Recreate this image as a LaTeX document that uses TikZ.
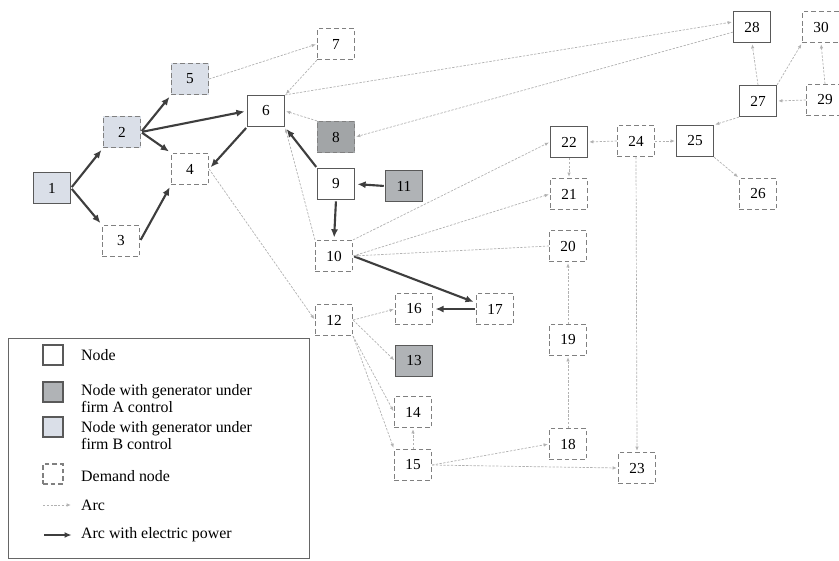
\documentclass[tikz,border=0pt]{standalone}
\usepackage{fontspec}
\setmainfont{Liberation Serif}
\usetikzlibrary{arrows.meta}
\definecolor{arcgray}{RGB}{178,178,178}
\definecolor{powergray}{RGB}{62,62,62}
\definecolor{firma}{RGB}{176,179,182}
\definecolor{firmb}{RGB}{218,223,232}
\tikzset{
	bus/.style={draw=black!65, line width=0.9pt, fill=white, minimum width=31.5pt, minimum height=26.5pt, inner sep=0pt, font=\fontsize{13}{13}\selectfont},
	demand/.style={bus, draw=black!50, dash pattern=on 4pt off 2.5pt},
	gena/.style={bus, fill=firma},
	genad/.style={demand, fill=firma!92!black},
	genb/.style={bus, fill=firmb},
	genbd/.style={demand, fill=firmb},
	arc/.style={draw=arcgray, line width=0.6pt, dash pattern=on 2pt off 1.2pt, -{Latex[length=3.5pt,width=3pt]}, shorten >=1pt},
	power/.style={draw=powergray, line width=1.8pt, -{Latex[length=7pt,width=6pt]}, shorten >=2pt, shorten <=1pt},
	keytext/.style={anchor=west, align=left, inner sep=0pt, font=\fontsize{13.5}{14.5}\selectfont}
}
\begin{document}
\begin{tikzpicture}[x=0.85pt, y=-0.85pt]
		\useasboundingbox (0,0) rectangle (839,560);

		\node[genb] (n1) at(52, 188){1};
		\node[genbd] (n2) at(122, 132){2};
		\node[demand] (n3) at(121, 241){3};
		\node[demand] (n4) at(190, 169){4};
		\node[genbd] (n5) at(190, 79){5};
		\node[bus] (n6) at(266, 111){6};
		\node[demand] (n7) at(336, 44){7};
		\node[genad] (n8) at(336, 137){8};
		\node[bus] (n9) at(336, 184){9};
		\node[demand] (n10) at(334, 256){10};
		\node[gena] (n11) at(404, 186){11};
		\node[demand] (n12) at(334, 320){12};
		\node[gena] (n13) at(414, 361){13};
		\node[demand] (n14) at(413, 412){14};
		\node[demand] (n15) at(413, 465){15};
		\node[demand] (n16) at(414, 309){16};
		\node[demand] (n17) at(495, 309){17};
		\node[demand] (n18) at(568, 444){18};
		\node[demand] (n19) at(568, 340){19};
		\node[demand] (n20) at(568, 246){20};
		\node[demand] (n21) at(569, 194){21};
		\node[bus] (n22) at(569, 142){22};
		\node[demand] (n23) at(637, 468){23};
		\node[demand] (n24) at(636, 141){24};
		\node[bus] (n25) at(695, 141){25};
		\node[demand] (n26) at(758, 194){26};
		\node[bus] (n27) at(758, 101){27};
		\node[bus] (n28) at(752, 27){28};
		\node[demand] (n29) at(825, 100){29};
		\node[demand] (n30) at(821, 27){30};

		\draw[power] (n1.east) to (n2.south west);
		\draw[power] (n1.east) to (n3.north west);
		\draw[power] (n2.east) to (n5.south west);
		\draw[power] (n2.east) to (n6.west);
		\draw[power] (n2.east) to (n4.north west);
		\draw[power] (n3.east) to (n4.south west);
		\draw[power] (n6.south west) to (n4.east);
		\draw[power] (n9.north west) to (n6.south east);
		\draw[power] (n11.west) to (n9.east);
		\draw[power] (n9.south) to (n10.north);
		\draw[power] (n10.east) to (n17.162);
		\draw[power] (n17.west) to (n16.east);

		\draw[arc] (n5.east) to (n7.west);
		\draw[arc] (n7.south west) to (n6.north east);
		\draw[arc] (n6.north east) to (n28.165);
		\draw[arc] (n28.195) to (n8.east);
		\draw[arc] (n8.north west) to (n6.east);
		\draw[arc] (n10.north west) to (n6.south east);
		\draw[arc] (n4.east) to (n12.west);
		\draw[arc] (n10.north east) to (n22.west);
		\draw[arc] (n10.east) to (n21.west);
		\draw[arc] (n20.west) to (n10.east);
		\draw[arc] (n12.east) to (n16.west);
		\draw[arc] (n12.east) to (n13.west);
		\draw[arc] (n12.south east) to (n14.west);
		\draw[arc] (n12.south east) to (n15.north west);
		\draw[arc] (n15.north) to (n14.south);
		\draw[arc] (n15.east) to (n18.west);
		\draw[arc] (n15.east) to (n23.west);
		\draw[arc] (n18.north) to (n19.south);
		\draw[arc] (n19.north) to (n20.south);
		\draw[arc] (n22.south) to (n21.north);
		\draw[arc] (n24.west) to (n22.east);
		\draw[arc] (n24.east) to (n25.west);
		\draw[arc] (n24.south) to (n23.north);
		\draw[arc] (n25.south east) to (n26.north west);
		\draw[arc] (n27.south west) to (n25.north east);
		\draw[arc] (n27.north) to (n28.south);
		\draw[arc] (n27.north east) to (n30.south west);
		\draw[arc] (n29.west) to (n27.east);
		\draw[arc] (n29.north) to (n30.south);

		\draw[black!60, line width=0.7pt] (8, 338) rectangle (309, 558);
		\node[bus, minimum width=17pt, minimum height=17pt] (kbus) at(53, 355){};
		\node[gena, minimum width=17pt, minimum height=17pt] (kgena) at(53, 392){};
		\node[genb, minimum width=17pt, minimum height=17pt] (kgenb) at(53, 427){};
		\node[demand, minimum width=17pt, minimum height=17pt] (kdemand) at(53, 474){};
		\coordinate (karcA) at(43, 505);
		\coordinate (karcB) at(72, 505);
		\coordinate (kpowA) at(43, 535);
		\coordinate (kpowB) at(74, 535);
		\draw[arc] (karcA) to (karcB);
		\draw[power, line width=1.4pt, -{Latex[length=6pt,width=5pt]}] (kpowA) to (kpowB);

		\node[keytext] (tbus) at(81, 355){Node};
		\node[keytext] (tgena) at(81, 399){Node with generator under\\firm A control};
		\node[keytext] (tgenb) at(81, 436){Node with generator under\\firm B control};
		\node[keytext] (tdemand) at(81, 476){Demand node};
		\node[keytext] (tarc) at(81, 505){Arc};
		\node[keytext] (tpow) at(81, 535){Arc with electric power};
	\end{tikzpicture}
\end{document}
